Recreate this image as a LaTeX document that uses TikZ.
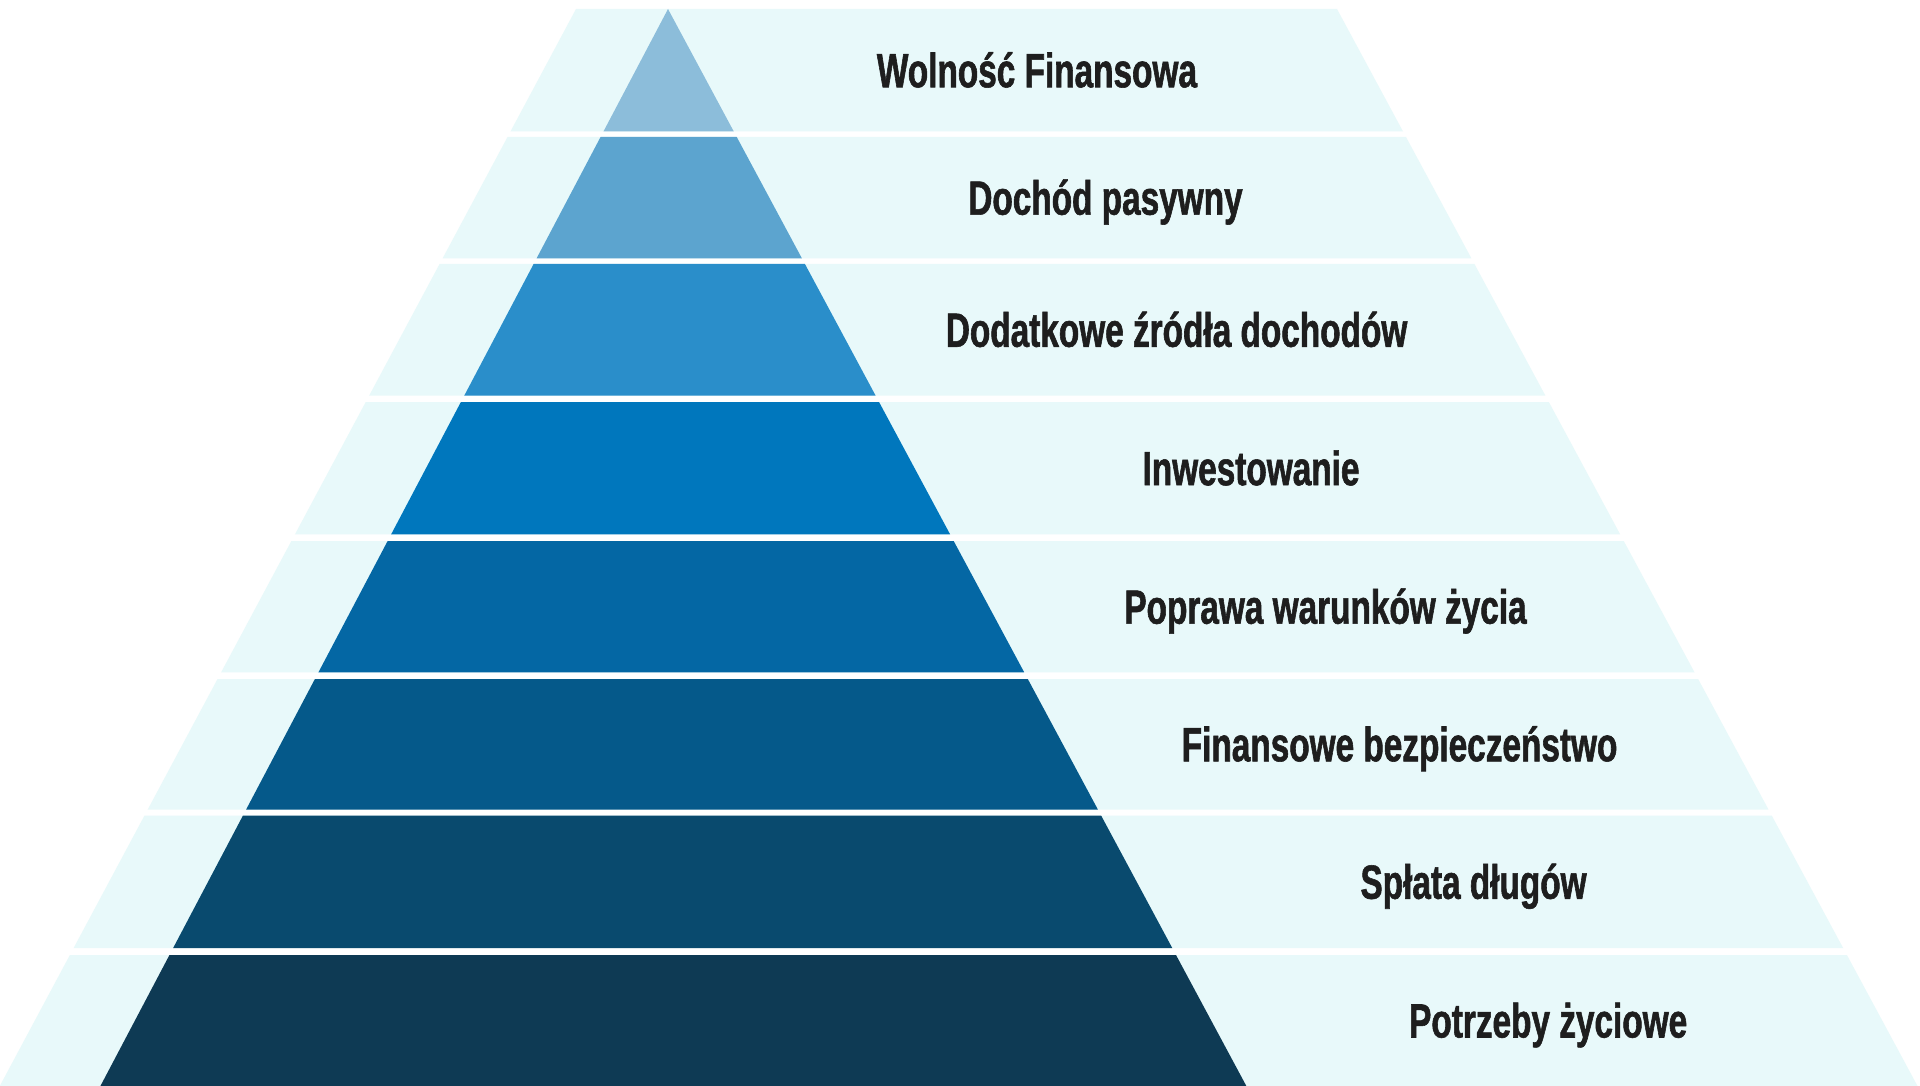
\documentclass[tikz,border=0pt]{standalone}
\usepackage{fontspec}
\newfontfamily\labelfont{Liberation Sans}[FakeStretch=0.695,FakeBold=1.2]
\definecolor{lightbg}{HTML}{E8F9FA}
\definecolor{bandA}{HTML}{8CBDDA}
\definecolor{bandB}{HTML}{5CA4CF}
\definecolor{bandC}{HTML}{2A8ECA}
\definecolor{bandD}{HTML}{0077BD}
\definecolor{bandE}{HTML}{0467A4}
\definecolor{bandF}{HTML}{05598A}
\definecolor{bandG}{HTML}{094A6E}
\definecolor{bandH}{HTML}{0E3A54}
\definecolor{labeltext}{HTML}{1E1E1E}
\tikzset{
  lbl/.style={anchor=base, inner sep=0pt, text=labeltext,
    font=\labelfont\bfseries\fontsize{48}{57}\selectfont},
  bgband/.style={fill=lightbg},
}
\begin{document}
\begin{tikzpicture}[x=1pt,y=-1pt]
\useasboundingbox (0,0) rectangle (1920,1086);
\fill[white] (0,0) rectangle (1920,1086);
\foreach \n/\ya/\yb/\col/\txt in {
  1/9/131.5/bandA/Wolność Finansowa,
  2/137/258.3/bandB/Dochód pasywny,
  3/263.8/395.7/bandC/Dodatkowe źródła dochodów,
  4/402/534.3/bandD/Inwestowanie,
  5/541/672.3/bandE/Poprawa warunków życia,
  6/679/809.5/bandF/Finansowe bezpieczeństwo,
  7/815.5/948/bandG/Spłata długów,
  8/955/1086/bandH/Potrzeby życiowe}{
  \pgfmathsetmacro\la{576-0.535*(\ya-9)}
  \pgfmathsetmacro\lb{576-0.535*(\yb-9)}
  \pgfmathsetmacro\ra{1337+0.539*(\ya-9)}
  \pgfmathsetmacro\rb{1337+0.539*(\yb-9)}
  \pgfmathsetmacro\tla{668-0.527*(\ya-9)}
  \pgfmathsetmacro\tlb{668-0.527*(\yb-9)}
  \pgfmathsetmacro\tra{668+0.537*(\ya-9)}
  \pgfmathsetmacro\trb{668+0.537*(\yb-9)}
  \pgfmathsetmacro\ym{(\ya+\yb)/2}
  \pgfmathsetmacro\cx{1004+0.538*(\ym-9)}
  \pgfmathsetmacro\yt{\ym+17}
  \fill[bgband] (\la,\ya) -- (\ra,\ya) -- (\rb,\yb) -- (\lb,\yb) -- cycle;
  \fill[fill=\col] (\tla,\ya) -- (\tra,\ya) -- (\trb,\yb) -- (\tlb,\yb) -- cycle;
  \node[lbl] (label\n) at (\cx,\yt) {\txt};
}
\end{tikzpicture}
\end{document}
